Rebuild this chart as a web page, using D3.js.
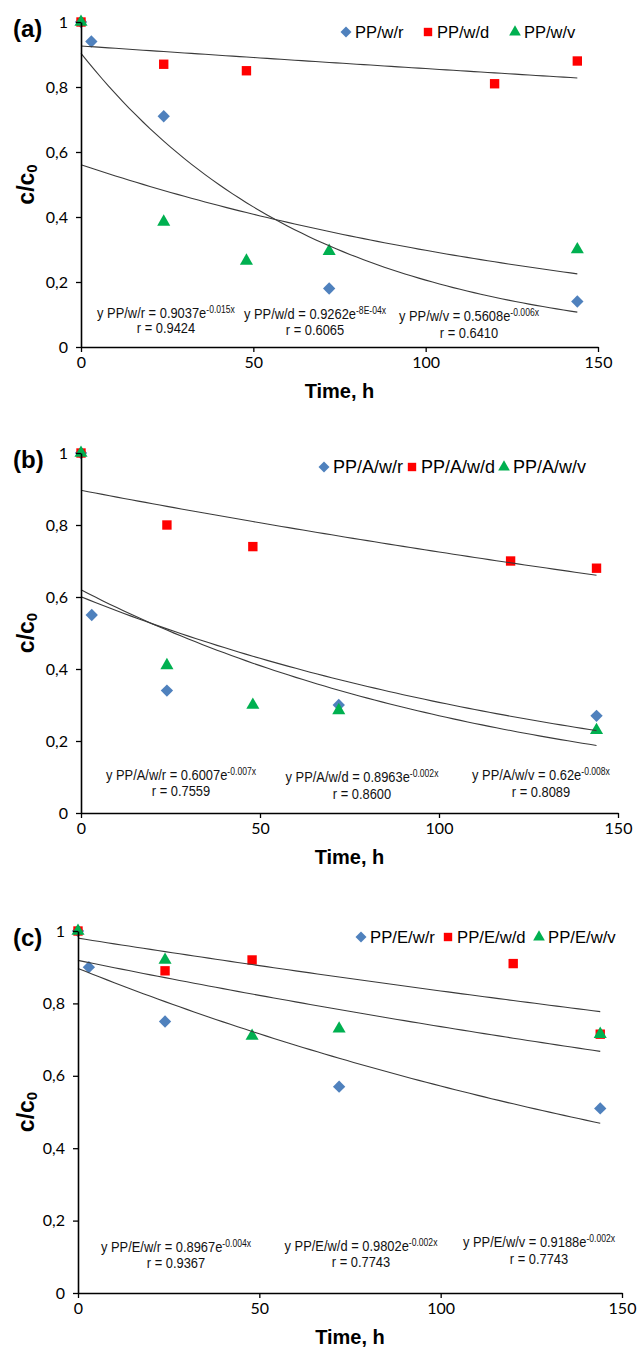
<!DOCTYPE html>
<html>
<head>
<meta charset="utf-8">
<script src="https://cdn.jsdelivr.net/npm/d3@7"></script>
<style>
  body { margin: 0; background: #fff; }
  svg { display: block; }
</style>
</head>
<body>
<div class="chart"></div>
<script>
let FRAME_WIDTH = 638;
let FRAME_HEIGHT = 1349;

// sampling times (h) of each series
const TIME_WR = [0, 3, 24, 72, 144];
const TIME_WD = [0, 24, 48, 120, 144];
const TIME_WV = [0, 24, 48, 72, 144];

// c/c0 values
const A_WR = [1, 0.94, 0.71, 0.18, 0.14];
const A_WD = [1, 0.87, 0.85, 0.81, 0.88];
const A_WV = [1, 0.385, 0.265, 0.295, 0.30];

const B_WR = [1, 0.55, 0.34, 0.30, 0.27];
const B_WD = [1, 0.80, 0.74, 0.70, 0.68];
const B_WV = [1, 0.41, 0.30, 0.285, 0.23];

const C_WR = [1, 0.90, 0.75, 0.57, 0.51];
const C_WD = [1, 0.89, 0.92, 0.91, 0.715];
const C_WV = [1, 0.92, 0.71, 0.73, 0.715];

// exponential trendlines y = a * e^(b x); b
const A_FIT_A = [0.9037, 0.9262, 0.5608];
const A_FIT_B = [-0.0148, -0.00078, -0.00634];
const B_FIT_A = [0.6007, 0.8963, 0.62];
const B_FIT_B = [-0.0067, -0.00212, -0.0083];
const C_FIT_A = [0.8967, 0.9802, 0.9188];
const C_FIT_B = [-0.0045, -0.00161, -0.00222];

// legend names and equation labels
const A_NAMES = ["PP/w/r", "PP/w/d", "PP/w/v"];
const B_NAMES = ["PP/A/w/r", "PP/A/w/d", "PP/A/w/v"];
const C_NAMES = ["PP/E/w/r", "PP/E/w/d", "PP/E/w/v"];

const A_EQ = ["y PP/w/r = 0.9037e", "y PP/w/d = 0.9262e", "y PP/w/v = 0.5608e"];
const A_EXP = ["-0.015x", "-8E-04x", "-0.006x"];
const A_R = ["r = 0.9424", "r = 0.6065", "r = 0.6410"];
const B_EQ = ["y PP/A/w/r = 0.6007e", "y PP/A/w/d = 0.8963e", "y PP/A/w/v = 0.62e"];
const B_EXP = ["-0.007x", "-0.002x", "-0.008x"];
const B_R = ["r = 0.7559", "r = 0.8600", "r = 0.8089"];
const C_EQ = ["y PP/E/w/r = 0.8967e", "y PP/E/w/d = 0.9802e", "y PP/E/w/v = 0.9188e"];
const C_EXP = ["-0.004x", "-0.002x", "-0.002x"];
const C_R = ["r = 0.9367", "r = 0.7743", "r = 0.7743"];

const Y_TICKS = [0, 0.2, 0.4, 0.6, 0.8, 1];
const X_TICKS = [0, 50, 100, 150];
const PANEL_LABELS = ["(a)", "(b)", "(c)"];

const COLORS = ["#4F81BD", "#FF0000", "#00B050"];
const SHAPES = ["diamond", "square", "triangle"];

// layout of the three panels
let PANELS = [
  {label: PANEL_LABELS[0], left: 81, right: 598, top: 22, bottom: 347,
   times: [TIME_WR, TIME_WD, TIME_WV], vals: [A_WR, A_WD, A_WV],
   fitA: A_FIT_A, fitB: A_FIT_B, names: A_NAMES, eq: A_EQ, exp: A_EXP, r: A_R,
   legX: [346, 428, 515], legY: 32, legSize: 16.5,
   eqX: [166, 315, 469], eqY: [313, 314, 316], rY: [328, 330, 333]},
  {label: PANEL_LABELS[1], left: 81, right: 618, top: 453, bottom: 813,
   times: [TIME_WR, TIME_WD, TIME_WV], vals: [B_WR, B_WD, B_WV],
   fitA: B_FIT_A, fitB: B_FIT_B, names: B_NAMES, eq: B_EQ, exp: B_EXP, r: B_R,
   legX: [324, 412, 504], legY: 467, legSize: 18,
   eqX: [181, 362, 541], eqY: [775, 777, 775], rY: [791, 794, 792]},
  {label: PANEL_LABELS[2], left: 78, right: 622, top: 931, bottom: 1293,
   times: [TIME_WR, TIME_WD, TIME_WV], vals: [C_WR, C_WD, C_WV],
   fitA: C_FIT_A, fitB: C_FIT_B, names: C_NAMES, eq: C_EQ, exp: C_EXP, r: C_R,
   legX: [361, 448, 539], legY: 937, legSize: 16.7,
   eqX: [176, 361, 539], eqY: [1247, 1246, 1242], rY: [1263, 1262, 1259]}
];

let FRAME = d3.select(".chart")
              .append("svg")
              .attr("width", FRAME_WIDTH)
              .attr("height", FRAME_HEIGHT);

function symbolPath(shape, size) {
  if (shape === "triangle") return d3.symbol(d3.symbolTriangle, size)();
  return d3.symbol(d3.symbolSquare, size)();
}
const SIZES = {diamond: 76, square: 88, triangle: 74};

function yFormat(d) {
  if (d === 0 || d === 1) return String(d);
  return d.toFixed(1).replace(".", ",");
}

// the labels use a narrow face; squeeze the regular one
const NARROW = 0.86;

PANELS.forEach((p) => {
  const X_SCALE = d3.scaleLinear().domain([0, 150]).range([p.left, p.right]);
  const Y_SCALE = d3.scaleLinear().domain([0, 1]).range([p.bottom, p.top]);

  // markers: blue, red, green in Excel order
  p.vals.forEach((vals, s) => {
    const pts = vals.map((v, i) => ({t: p.times[s][i], v: v}));
    FRAME.append("g").selectAll("path")
      .data(pts)
      .enter()
      .append("path")
        .attr("d", symbolPath(SHAPES[s], SIZES[SHAPES[s]]))
        .attr("transform", (d) => {
          let tr = "translate(" + X_SCALE(d.t) + "," + Y_SCALE(d.v) + ")";
          if (SHAPES[s] === "diamond") tr += " rotate(45)";
          return tr;
        })
        .attr("fill", COLORS[s]);
  });

  // trendlines
  const line = d3.line().x((d) => X_SCALE(d[0])).y((d) => Y_SCALE(d[1]));
  p.fitA.forEach((a, s) => {
    const tEnd = d3.max(p.times[s]);
    const pts = d3.range(0, tEnd + 0.01, 2).map((t) => [t, a * Math.exp(p.fitB[s] * t)]);
    FRAME.append("path")
      .attr("d", line(pts))
      .attr("fill", "none")
      .attr("stroke", "#3a3a3a")
      .attr("stroke-width", 1.1);
  });

  // axes
  let yAxis = FRAME.append("g")
    .attr("transform", "translate(" + p.left + ",0)")
    .call(d3.axisLeft(Y_SCALE).tickValues(Y_TICKS).tickFormat(yFormat)
          .tickSize(5).tickSizeOuter(0).tickPadding(8));
  let xAxis = FRAME.append("g")
    .attr("transform", "translate(0," + p.bottom + ")")
    .call(d3.axisBottom(X_SCALE).tickValues(X_TICKS)
          .tickSize(5).tickSizeOuter(0).tickPadding(5));
  [yAxis, xAxis].forEach((ax) => {
    ax.select(".domain").attr("stroke", "#000").attr("stroke-width", 1.6);
    ax.selectAll(".tick line").attr("stroke", "#000").attr("stroke-width", 1.3);
    ax.selectAll(".tick text")
      .attr("font-family", "Lato, 'Open Sans', sans-serif")
      .attr("font-size", "16px")
      .attr("fill", "#000");
  });

  // axis titles
  let yTitle = FRAME.append("text")
    .attr("transform", "translate(26," + ((p.top + p.bottom) / 2) + ") rotate(-90)")
    .attr("text-anchor", "middle")
    .attr("dominant-baseline", "central")
    .attr("font-family", "'Liberation Sans', Arial, sans-serif")
    .attr("font-weight", "bold")
    .attr("font-size", "23px");
  yTitle.append("tspan").text("c/c");
  yTitle.append("tspan").attr("font-size", "15px").attr("dy", 5).text("0");

  FRAME.append("text")
    .attr("x", (p.left + p.right) / 2)
    .attr("y", p.bottom + 51)
    .attr("text-anchor", "middle")
    .attr("font-family", "'Liberation Sans', Arial, sans-serif")
    .attr("font-weight", "bold")
    .attr("font-size", "20px")
    .text("Time, h");

  // panel label
  FRAME.append("text")
    .attr("x", 13)
    .attr("y", p.top + 15)
    .attr("font-family", "'Liberation Sans', Arial, sans-serif")
    .attr("font-weight", "bold")
    .attr("font-size", "24px")
    .text(p.label);

  // legend
  p.names.forEach((name, s) => {
    let tr = "translate(" + p.legX[s] + "," + p.legY + ")";
    if (SHAPES[s] === "diamond") tr += " rotate(45)";
    FRAME.append("path")
      .attr("d", symbolPath(SHAPES[s], SIZES[SHAPES[s]] * 0.8))
      .attr("transform", tr)
      .attr("fill", COLORS[s]);
    FRAME.append("text")
      .attr("x", p.legX[s] + 9)
      .attr("y", p.legY + p.legSize * 0.36)
      .attr("font-family", "'Liberation Sans', Arial, sans-serif")
      .attr("font-size", p.legSize + "px")
      .text(name);
  });

  // equation labels
  p.eq.forEach((eq, s) => {
    let t = FRAME.append("text")
      .attr("transform", "translate(" + p.eqX[s] + "," + (p.eqY[s] + 5) + ") scale(" + NARROW + ",1)")
      .attr("text-anchor", "middle")
      .attr("font-family", "'Liberation Sans', Arial, sans-serif")
      .attr("font-size", "15px")
      .attr("fill", "#111");
    t.append("tspan").text(eq);
    t.append("tspan").attr("font-size", "10px").attr("dy", -5).text(p.exp[s]);
    FRAME.append("text")
      .attr("transform", "translate(" + p.eqX[s] + "," + (p.rY[s] + 5) + ") scale(" + NARROW + ",1)")
      .attr("text-anchor", "middle")
      .attr("font-family", "'Liberation Sans', Arial, sans-serif")
      .attr("font-size", "15px")
      .attr("fill", "#111")
      .text(p.r[s]);
  });
});
</script>
</body>
</html>
